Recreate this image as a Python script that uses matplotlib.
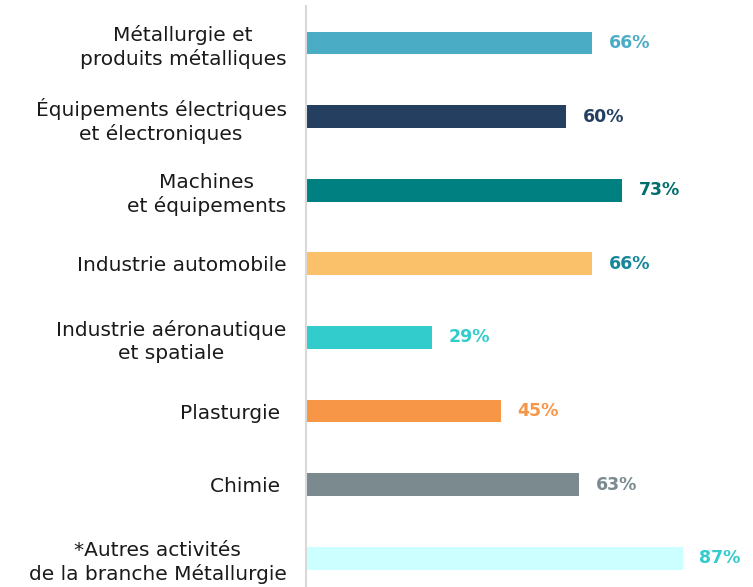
import matplotlib.pyplot as plt

categories = [
    "Métallurgie et\nproduits métalliques",
    "Équipements électriques\net électroniques",
    "Machines\net équipements",
    "Industrie automobile",
    "Industrie aéronautique\net spatiale",
    "Plasturgie ",
    "Chimie ",
    "*Autres activités\nde la branche Métallurgie",
]
values = [66, 60, 73, 66, 29, 45, 63, 87]
bar_colors = ["#4BACC6", "#243F60", "#008080", "#FAC06A",
              "#33CCCC", "#F79646", "#7B8A8F", "#CCFFFF"]
label_colors = ["#4BACC6", "#243F60", "#006E6E", "#17859A",
                "#33CCCC", "#F79646", "#7B8A8F", "#33CCCC"]

plt.rcParams['font.family'] = ['DejaVu Sans']

fig = plt.figure(figsize=(7.53, 5.87), dpi=100)
ax = fig.add_axes([306/753, 0, 1 - 306/753, 581/587])

y = list(range(len(values)))
bars = ax.barh(y, values, height=0.31, color=bar_colors)

for bar, v, c in zip(bars, values, label_colors):
    ax.annotate(f"{v}%", (bar.get_width(), bar.get_y() + bar.get_height()/2),
                xytext=(12, 0), textcoords="offset points",
                va="center", ha="left", fontsize=12.5, fontweight="bold", color=c)

ax.set_yticks(y)
ax.set_yticklabels(categories, fontsize=14.5, color="#1a1a1a",
                   multialignment="center", linespacing=1.25)
ax.tick_params(axis="y", length=0, pad=14)
ax.set_xticks([])
ax.set_xlim(0, 103.2)
ax.set_ylim(7.39, -0.503)

for s in ["top", "right", "bottom"]:
    ax.spines[s].set_visible(False)
ax.spines["left"].set_color("#D9D9D9")
ax.spines["left"].set_linewidth(1.5)

fig.savefig("out.png", dpi=100)
